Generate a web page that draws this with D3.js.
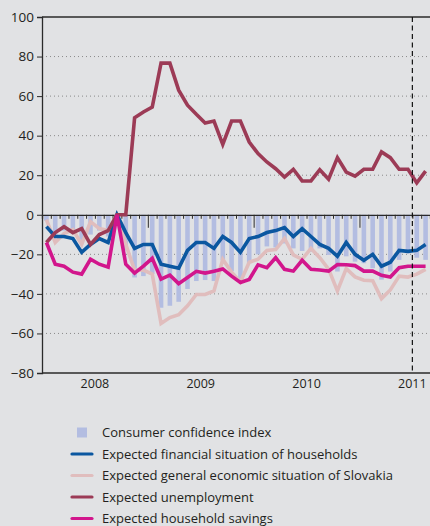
<!DOCTYPE html>
<html><head><meta charset="utf-8">
<script src="https://cdn.jsdelivr.net/npm/d3@7"></script>
<style>
html,body{margin:0;padding:0;background:#e1e2e4;}
svg{display:block;}
text{font-family:"Open Sans","Noto Sans",sans-serif;fill:#231f20;}
</style></head><body>
<svg id="c" width="430" height="526"></svg>
<script>
const years = ["2008", "2009", "2010", "2011"];
const yTicks = [100, 80, 60, 40, 20, 0, -20, -40, -60, -80];
const confidence = [-3, -10, -8, -9, -14, -10, -8, -11, 0, -18, -31.7, -31, -30, -47, -46, -44, -37.5, -33.5, -33, -33.5, -23, -28.5, -34, -24.5, -20, -16, -16.5, -14.5, -17, -18.3, -18.7, -17, -20.3, -28.7, -21, -23.7, -24.5, -27, -32.8, -28.7, -22.8, -19.5, -21.7, -22.8];
const financial = [-6, -11, -11, -12, -19, -15, -12, -14, 0, -9, -17, -15, -15, -25, -26, -27, -18, -14, -14, -17, -11, -14, -19, -12, -11, -9, -8, -6.5, -11, -7, -11, -15, -17, -21, -14, -20, -23, -20, -26, -24, -18, -18.5, -18, -15];
const economic = [-2.5, -14, -9.5, -7.5, -15, -3.5, -7, -8, 0, -15, -28, -28, -30, -55, -52, -50.5, -46, -40.3, -40.3, -38.5, -22.6, -29, -34, -24, -22.5, -18, -17.6, -12, -20.3, -22.5, -17, -21.7, -27.5, -38.5, -27.2, -31.4, -33.1, -33.3, -42.4, -38, -31, -31.5, -30, -27.6];
const unemployment = [-14, -9, -6, -9, -7, -15, -10, -8, 0, 0, 49, 52, 54.5, 76.7, 76.7, 63, 55.4, 50.8, 46.4, 47.4, 35.6, 47.4, 47.4, 36.8, 30.9, 26.7, 23.3, 19.1, 23, 17.1, 17.1, 22.8, 18, 28.9, 21.6, 19.5, 23, 23, 31.8, 28.9, 23, 23, 16.1, 22.1];
const savings = [-14, -25, -26, -29, -30, -22.5, -25, -26.5, 0, -25, -29.5, -26, -22, -32.5, -30.5, -34.8, -31.7, -28.6, -29.5, -28.5, -27.4, -31, -34.2, -32.7, -25.3, -26.8, -21.7, -27.6, -28.5, -23, -27.6, -27.9, -28.5, -25.2, -25.3, -25.7, -28.5, -28.5, -30.6, -31.5, -26.8, -26, -26, -26];
const legendLabels = ["Consumer confidence index", "Expected financial situation of households", "Expected general economic situation of Slovakia", "Expected unemployment", "Expected household savings"];
const colors = {bar: "#b3bde1", financial: "#0b57a0", economic: "#e0bdbd", unemployment: "#9c3b56", savings: "#d2168c"};

const svg = d3.select("#c");
const nMonths = confidence.length;
const x = d3.scaleLinear().domain([0, nMonths]).range([42, 430]);
const y = d3.scaleLinear().domain([-80, 100]).range([373, 17]);

// gridlines
svg.append("g").selectAll("line").data(yTicks.filter(v => v !== 0 && v !== 100 && v !== -80)).join("line")
  .attr("x1", x(0)).attr("x2", 430).attr("y1", d => y(d)).attr("y2", d => y(d))
  .attr("stroke", "#8a8a8a").attr("stroke-width", 1).attr("stroke-dasharray", "1,3");

// bars
const bw = 4.6;
svg.append("g").selectAll("rect").data(confidence).join("rect")
  .attr("x", (d, i) => x(i + 0.5) - bw / 2).attr("width", bw)
  .attr("y", d => y(Math.max(0, d))).attr("height", d => Math.abs(y(d) - y(0)))
  .attr("fill", colors.bar);

// frame lines
svg.append("line").attr("x1", x(0)).attr("x2", 430).attr("y1", y(100)).attr("y2", y(100)).attr("stroke", "#2a2a2a").attr("stroke-width", 1.3);
svg.append("line").attr("x1", x(0)).attr("x2", 430).attr("y1", y(-80)).attr("y2", y(-80)).attr("stroke", "#2a2a2a").attr("stroke-width", 1.3);

// zero axis with month ticks
const zeroAxis = svg.append("g").attr("transform", `translate(0,${y(0)})`)
  .call(d3.axisBottom(x).tickValues(d3.range(1, nMonths)).tickSize(4).tickFormat(""));
zeroAxis.select(".domain").attr("stroke", "#2a2a2a").attr("stroke-width", 1.3);
zeroAxis.selectAll(".tick line").attr("stroke", "#2a2a2a").attr("stroke-width", 1)
  .attr("y2", d => d % 12 === 0 ? 13 : 4);

// lines
const line = d3.line().x((d, i) => x(i + 0.5)).y(d => y(d)).curve(d3.curveLinear);
[["economic", economic], ["financial", financial], ["unemployment", unemployment], ["savings", savings]].forEach(([k, arr]) => {
  svg.append("path").datum(arr).attr("d", line).attr("fill", "none")
    .attr("stroke", colors[k]).attr("stroke-width", 3.6).attr("stroke-linejoin", "miter").attr("stroke-miterlimit", 3);
});

// dashed vertical line
svg.append("line").attr("x1", x(42)).attr("x2", x(42)).attr("y1", y(100)).attr("y2", y(-80))
  .attr("stroke", "#111").attr("stroke-width", 1.2).attr("stroke-dasharray", "5,3.5");

// y axis
const yAxis = svg.append("g").attr("transform", `translate(${x(0)},0)`)
  .call(d3.axisLeft(y).tickValues(yTicks).tickSize(5).tickPadding(3).tickFormat(d3.format("d")));
yAxis.select(".domain").attr("stroke", "#2a2a2a").attr("stroke-width", 1.3);
yAxis.selectAll(".tick line").attr("stroke", "#2a2a2a");
yAxis.selectAll(".tick text").attr("font-size", 13.5).attr("font-family", "'Open Sans', sans-serif").attr("fill", "#231f20");

// year labels
svg.append("g").selectAll("text").data(years).join("text")
  .attr("x", (d, i) => x(i * 12 + 6)).attr("y", 388).attr("text-anchor", "middle")
  .attr("font-size", 12.5).text(d => d);

// legend
const lg = svg.append("g");
const rowY = [432.5, 454, 475.5, 497, 518.5];
const keys = ["bar", "financial", "economic", "unemployment", "savings"];
keys.forEach((k, i) => {
  if (k === "bar") {
    lg.append("rect").attr("x", 77).attr("y", rowY[i] - 5).attr("width", 10).attr("height", 10).attr("fill", colors.bar);
  } else {
    lg.append("line").attr("x1", 72).attr("x2", 92).attr("y1", rowY[i]).attr("y2", rowY[i])
      .attr("stroke", colors[k]).attr("stroke-width", 3.2).attr("stroke-linecap", "round");
  }
  lg.append("text").attr("x", 102).attr("y", rowY[i]).attr("dy", "0.35em").attr("font-size", 13).text(legendLabels[i]);
});
</script>
</body></html>
